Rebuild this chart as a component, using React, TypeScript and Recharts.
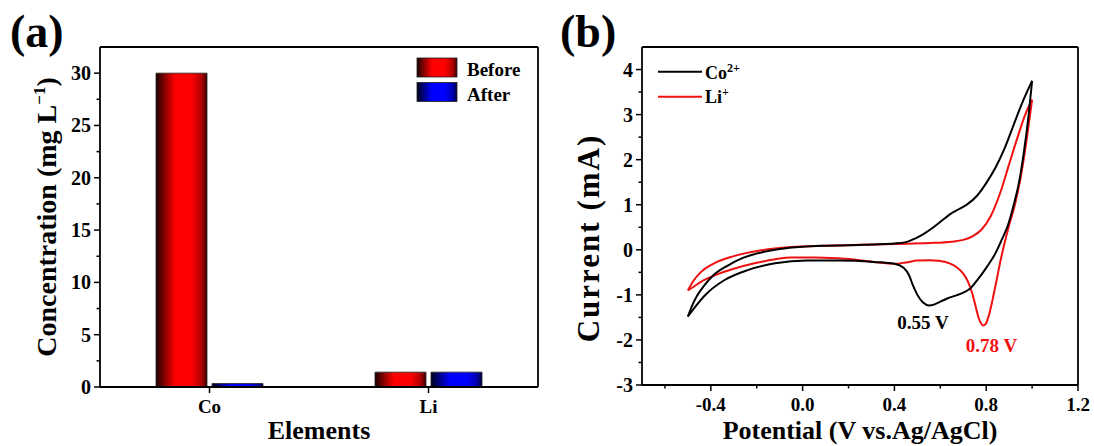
import React from 'react';
import { BarChart, Bar, XAxis, YAxis, LineChart, Line } from 'recharts';

const FONT = '"Liberation Serif", "Times New Roman", serif';

// ---------- Panel (a) data ----------
const elements = ['Co', 'Li'];
const beforeValues = [30, 1.42];
const afterValues = [0.33, 1.42];
const concTicks = [0, 2.5, 5, 7.5, 10, 12.5, 15, 17.5, 20, 22.5, 25, 27.5, 30];
const concMajor = [0, 5, 10, 15, 20, 25, 30];

// ---------- Panel (b) data: [potential V, current mA] ----------
const coForward: Array<[number, number]> = [
  [-0.5, -1.48], [-0.48, -1.22], [-0.46, -1.02], [-0.43, -0.8], [-0.39, -0.57], [-0.33, -0.36],
  [-0.26, -0.18], [-0.18, -0.06], [-0.1, 0.02], [0.0, 0.07], [0.1, 0.09], [0.2, 0.1], [0.3, 0.12],
  [0.4, 0.14], [0.45, 0.17], [0.49, 0.25], [0.53, 0.36], [0.57, 0.5], [0.61, 0.66], [0.64, 0.78],
  [0.68, 0.9], [0.72, 1.02], [0.76, 1.2], [0.8, 1.48], [0.84, 1.82], [0.88, 2.25], [0.92, 2.78],
  [0.96, 3.3], [1.0, 3.75],
];
const coReverse: Array<[number, number]> = [
  [1.0, 3.75], [0.985, 3.0], [0.965, 2.2], [0.945, 1.55], [0.92, 1.0], [0.895, 0.55], [0.87, 0.25],
  [0.84, -0.08], [0.8, -0.4], [0.76, -0.68], [0.73, -0.86], [0.7, -0.95], [0.67, -1.01], [0.63, -1.08],
  [0.6, -1.15], [0.575, -1.21], [0.55, -1.235], [0.525, -1.17], [0.5, -1.0], [0.48, -0.78],
  [0.465, -0.58], [0.44, -0.4], [0.4, -0.31], [0.31, -0.27], [0.16, -0.24], [0.02, -0.24],
  [-0.12, -0.3], [-0.24, -0.45], [-0.34, -0.67], [-0.42, -0.98], [-0.475, -1.31], [-0.5, -1.48],
];
const liForward: Array<[number, number]> = [
  [-0.5, -0.9], [-0.48, -0.72], [-0.445, -0.5], [-0.39, -0.31], [-0.3, -0.14], [-0.18, -0.01],
  [-0.05, 0.06], [0.1, 0.09], [0.25, 0.11], [0.4, 0.13], [0.55, 0.15], [0.65, 0.18], [0.7, 0.22],
  [0.74, 0.3], [0.78, 0.45], [0.82, 0.75], [0.86, 1.25], [0.9, 1.9], [0.94, 2.55], [0.97, 3.0],
  [1.0, 3.33],
];
const liReverse: Array<[number, number]> = [
  [1.0, 3.33], [0.975, 2.4], [0.95, 1.6], [0.925, 1.0], [0.9, 0.55], [0.88, 0.15], [0.862, -0.25],
  [0.845, -0.68], [0.828, -1.1], [0.812, -1.45], [0.797, -1.65], [0.787, -1.68], [0.776, -1.62],
  [0.765, -1.48], [0.755, -1.28], [0.74, -0.98], [0.72, -0.7], [0.7, -0.53], [0.67, -0.38],
  [0.64, -0.3], [0.6, -0.25], [0.55, -0.23], [0.5, -0.24], [0.45, -0.28], [0.4, -0.31],
  [0.33, -0.28], [0.25, -0.23], [0.15, -0.19], [0.05, -0.17], [-0.05, -0.17], [-0.12, -0.21],
  [-0.21, -0.3], [-0.3, -0.42], [-0.38, -0.56], [-0.44, -0.7], [-0.475, -0.82], [-0.5, -0.9],
];
const potentialTicks = [-0.6, -0.4, -0.2, 0, 0.2, 0.4, 0.6, 0.8, 1.0, 1.2];
const potentialMajor = [-0.4, 0, 0.4, 0.8, 1.2];
const currentTicks = [-3, -2.5, -2, -1.5, -1, -0.5, 0, 0.5, 1, 1.5, 2, 2.5, 3, 3.5, 4];
const currentMajor = [-3, -2, -1, 0, 1, 2, 3, 4];

const barData = elements.map((el, i) => ({ el, before: beforeValues[i], after: afterValues[i] }));
const toPts = (arr: Array<[number, number]>) => arr.map(([v, c]) => ({ v, c }));

const isIn = (set: number[], v: number) => set.some((m) => Math.abs(m - v) < 1e-9);

const makeYTick = (major: number[], fmt: (v: number) => string) => (props: any) => {
  const { x, y, payload } = props;
  const v = payload.value;
  const mj = isIn(major, v);
  return (
    <g>
      <line x1={x - (mj ? 6 : 3.5)} x2={x} y1={y} y2={y} stroke="#000" strokeWidth={1.5} />
      {mj && (
        <text x={x - 9} y={y} dy={7} textAnchor="end" fontFamily={FONT} fontWeight="bold" fontSize={20} fill="#000">
          {fmt(v)}
        </text>
      )}
    </g>
  );
};

const makeXTick = (major: number[] | null, fmt: (v: any) => string) => (props: any) => {
  const { x, y, payload } = props;
  const v = payload.value;
  const mj = major === null ? true : isIn(major, v);
  return (
    <g>
      <line x1={x} x2={x} y1={y} y2={y + (mj ? 6 : 3.5)} stroke="#000" strokeWidth={1.5} />
      {mj && (
        <text x={x} y={y + 26} textAnchor="middle" fontFamily={FONT} fontWeight="bold" fontSize={19} fill="#000">
          {fmt(v)}
        </text>
      )}
    </g>
  );
};

const axisStroke = { stroke: '#000', strokeWidth: 1.8 };
const txt = { fontFamily: FONT, fontWeight: 'bold' as const, fill: '#000' };

export default function App() {
  return (
    <div style={{ position: 'absolute', left: 0, top: 0, width: 1094, height: 446, background: '#fff' }}>
      <svg width={0} height={0} style={{ position: 'absolute' }}>
        <defs>
          <linearGradient id="gradRed" x1="0" y1="0" x2="1" y2="0">
            <stop offset="0%" stopColor="#1a0000" />
            <stop offset="20%" stopColor="#990000" />
            <stop offset="38%" stopColor="#ff0000" />
            <stop offset="70%" stopColor="#ff0000" />
            <stop offset="90%" stopColor="#aa0000" />
            <stop offset="100%" stopColor="#3a0000" />
          </linearGradient>
          <linearGradient id="gradBlue" x1="0" y1="0" x2="1" y2="0">
            <stop offset="0%" stopColor="#00001a" />
            <stop offset="20%" stopColor="#000099" />
            <stop offset="38%" stopColor="#0000ff" />
            <stop offset="70%" stopColor="#0000ff" />
            <stop offset="90%" stopColor="#0000aa" />
            <stop offset="100%" stopColor="#00003a" />
          </linearGradient>
        </defs>
      </svg>

      <div style={{ position: 'absolute', left: 0, top: 0 }}>
        <BarChart width={560} height={446} data={barData} margin={{ top: 46, right: 21, bottom: 19, left: 40 }} barSize={51} barGap={5}>
          <XAxis dataKey="el" type="category" height={40} tickSize={0} tickMargin={0} tickLine={false} axisLine={axisStroke} interval={0} tick={makeXTick(null, (v) => String(v))} />
          <XAxis xAxisId="top" dataKey="el" orientation="top" height={1} tick={false} tickLine={false} axisLine={axisStroke} />
          <YAxis type="number" domain={[0, 32.5]} ticks={concTicks} interval={0} width={60} tickSize={0} tickMargin={0} tickLine={false} axisLine={axisStroke} allowDataOverflow tick={makeYTick(concMajor, (v) => String(v))} />
          <YAxis yAxisId="right" orientation="right" type="number" domain={[0, 32.5]} width={1} tick={false} tickLine={false} axisLine={axisStroke} />
          <Bar dataKey="before" fill="url(#gradRed)" stroke="#222" strokeWidth={0.8} isAnimationActive={false} />
          <Bar dataKey="after" fill="url(#gradBlue)" stroke="#222" strokeWidth={0.8} isAnimationActive={false} />
        </BarChart>
      </div>

      <div style={{ position: 'absolute', left: 550, top: 0 }}>
        <LineChart width={544} height={446} margin={{ top: 46, right: 15, bottom: 21, left: 32 }}>
          <XAxis dataKey="v" type="number" domain={[-0.7, 1.2]} ticks={potentialTicks} interval={0} allowDataOverflow height={40} tickSize={0} tickMargin={0} tickLine={false} axisLine={axisStroke} tick={makeXTick(potentialMajor, (v) => Number(v).toFixed(1))} />
          <XAxis xAxisId="top" dataKey="v" type="number" domain={[-0.7, 1.2]} orientation="top" height={1} tick={false} tickLine={false} axisLine={axisStroke} />
          <YAxis type="number" domain={[-3, 4.5]} ticks={currentTicks} interval={0} allowDataOverflow width={60} tickSize={0} tickMargin={0} tickLine={false} axisLine={axisStroke} tick={makeYTick(currentMajor, (v) => String(v))} />
          <YAxis yAxisId="right" orientation="right" type="number" domain={[-3, 4.5]} width={1} tick={false} tickLine={false} axisLine={axisStroke} />
          <Line data={toPts(liForward)} dataKey="c" type="monotoneX" stroke="#f01010" strokeWidth={2} dot={false} isAnimationActive={false} />
          <Line data={toPts(liReverse)} dataKey="c" type="monotoneX" stroke="#f01010" strokeWidth={2} dot={false} isAnimationActive={false} />
          <Line data={toPts(coForward)} dataKey="c" type="monotoneX" stroke="#000" strokeWidth={2} dot={false} isAnimationActive={false} />
          <Line data={toPts(coReverse)} dataKey="c" type="monotoneX" stroke="#000" strokeWidth={2} dot={false} isAnimationActive={false} />
        </LineChart>
      </div>

      <svg width={1094} height={446} style={{ position: 'absolute', left: 0, top: 0, pointerEvents: 'none' }}>
        <text x={10} y={47} fontSize={46} {...txt}>(a)</text>
        <text x={560} y={47} fontSize={46} {...txt}>(b)</text>

        <text transform="translate(56,217) rotate(-90)" textAnchor="middle" fontSize={28} {...txt}>
          Concentration (mg L<tspan dy={-11} fontSize={17}>−1</tspan><tspan dy={11}>)</tspan>
        </text>
        <text x={319} y={439} textAnchor="middle" fontSize={26} {...txt}>Elements</text>

        <text transform="translate(599,238) rotate(-90)" textAnchor="middle" fontSize={31} letterSpacing={2} {...txt}>Current (mA)</text>
        <text x={860} y={439} textAnchor="middle" fontSize={26} {...txt}>Potential (V vs.Ag/AgCl)</text>

        <rect x={417} y={58} width={40} height={19} fill="url(#gradRed)" stroke="#222" strokeWidth={0.8} />
        <rect x={417} y={82.5} width={40} height={19} fill="url(#gradBlue)" stroke="#222" strokeWidth={0.8} />
        <text x={467} y={75.5} fontSize={19} {...txt}>Before</text>
        <text x={467} y={100.5} fontSize={19} {...txt}>After</text>

        <line x1={658} x2={702} y1={71.7} y2={71.7} stroke="#000" strokeWidth={2} />
        <line x1={658} x2={702} y1={96.7} y2={96.7} stroke="#f01010" strokeWidth={2} />
        <text x={705} y={78.5} fontSize={18} {...txt}>Co<tspan dy={-7} fontSize={12}>2+</tspan></text>
        <text x={705} y={103} fontSize={18} {...txt}>Li<tspan dy={-7} fontSize={12}>+</tspan></text>

        <text x={923} y={328.5} textAnchor="middle" fontSize={19} {...txt}>0.55 V</text>
        <text x={991.5} y={351.5} textAnchor="middle" fontSize={19} {...txt} fill="#f01010">0.78 V</text>
      </svg>
    </div>
  );
}
